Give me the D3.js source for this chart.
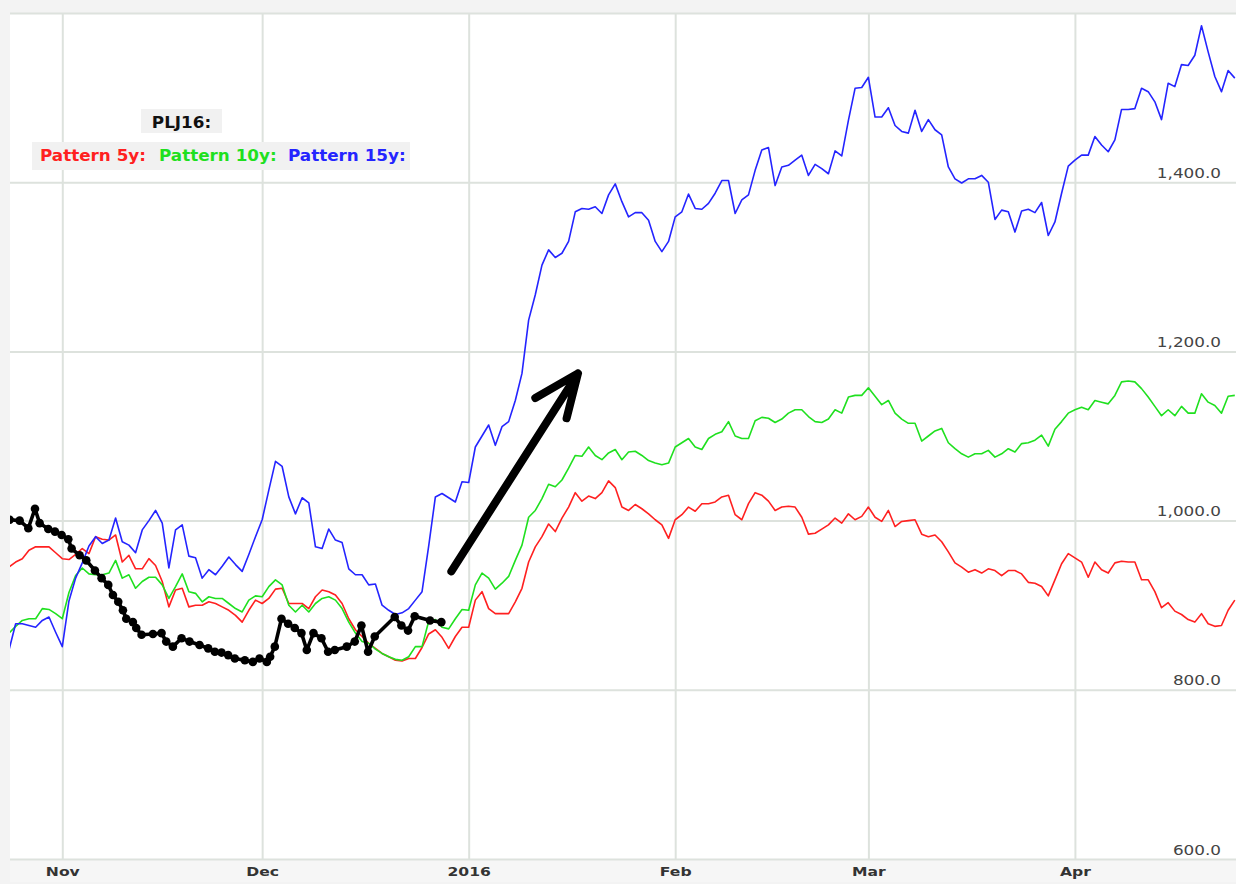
<!DOCTYPE html>
<html>
<head>
<meta charset="utf-8">
<script src="https://cdn.jsdelivr.net/npm/d3@7"></script>
<style>
  body { margin: 0; background: #f3f3f3; }
  svg { display: block; }
</style>
</head>
<body>
<svg id="chart"></svg>
<script>
// pattern series: one value per calendar day, starting 2015-10-24
var pattern5 = [945,951,955,965,969,969,969,962,955,954,960,967,961,981,978,977,983,951,959,943,
  943,955,947,928,898,918,920,898,900,900,904,902,898,894,888,880,894,906,902,908,
  919,920,902,902,902,896,910,918,916,912,902,884,871,863,855,849,843,839,835,834,
  837,837,850,866,871,862,849,863,874,874,906,916,896,890,890,890,904,920,951,969,
  981,996,987,1003,1016,1033,1023,1029,1026,1033,1047,1039,1016,1012,1019,1014,1008,1001,995,979,
  1001,1007,1016,1011,1020,1020,1022,1028,1030,1007,1001,1020,1033,1030,1023,1012,1016,1017,1016,1004,
  984,985,990,995,1003,997,1008,1001,1005,1016,1004,999,1012,993,999,1000,1001,984,981,983,
  975,963,950,945,939,942,938,943,941,935,941,941,937,927,926,922,911,930,949,961,
  956,951,933,951,942,938,950,952,951,951,930,930,916,897,903,893,889,883,880,890,
  878,875,876,894,906];

var pattern10 = [867,875,882,884,884,896,895,890,884,915,935,944,937,936,936,938,953,932,936,920,
  928,933,933,924,908,922,937,916,914,904,910,908,908,902,896,892,906,911,910,922,
  930,924,900,892,900,892,902,908,910,906,896,880,867,857,855,848,843,839,836,835,
  839,851,851,881,883,874,872,884,895,894,924,938,932,919,926,934,953,971,1004,1012,
  1026,1043,1040,1048,1062,1077,1076,1087,1077,1072,1080,1084,1072,1081,1082,1077,1071,1068,1066,1068,
  1087,1092,1097,1087,1084,1097,1102,1105,1117,1100,1097,1097,1118,1122,1121,1116,1120,1127,1131,1131,
  1123,1117,1116,1120,1131,1127,1146,1148,1148,1157,1147,1137,1142,1127,1120,1115,1115,1094,1100,1106,
  1109,1092,1085,1079,1075,1079,1079,1083,1075,1079,1085,1081,1091,1092,1095,1101,1088,1108,1117,1127,
  1131,1134,1131,1142,1140,1138,1148,1164,1165,1164,1156,1146,1135,1124,1131,1124,1135,1127,1127,1150,
  1140,1136,1127,1147,1148];

var pattern15 = [847,878,878,876,874,882,886,868,851,905,932,950,970,981,973,977,1003,975,971,962,
  989,1000,1012,997,944,989,995,958,956,932,942,936,946,957,948,940,960,981,1001,1036,
  1070,1064,1028,1008,1027,1021,969,967,990,977,974,943,936,936,924,925,900,894,889,891,
  896,906,916,970,1028,1032,1027,1022,1046,1045,1087,1100,1113,1089,1111,1117,1142,1174,1237,1267,
  1302,1320,1311,1316,1330,1365,1369,1368,1371,1363,1385,1398,1377,1359,1364,1364,1355,1330,1318,1330,
  1359,1365,1386,1369,1368,1375,1387,1402,1402,1363,1379,1385,1414,1438,1441,1396,1418,1420,1426,1432,
  1408,1421,1416,1410,1437,1431,1473,1511,1512,1524,1477,1477,1488,1467,1460,1458,1485,1460,1474,1462,
  1456,1418,1404,1399,1404,1404,1408,1400,1356,1367,1365,1341,1366,1368,1364,1376,1337,1353,1387,1419,
  1426,1432,1432,1454,1444,1436,1450,1486,1486,1487,1511,1507,1495,1474,1517,1513,1539,1538,1550,1585,
  1554,1525,1507,1532,1523];

// PLJ16 actual closes: day offset from 2015-10-24 and price
var plDays = [0.1,1.6,2.9,3.9,4.6,5.9,6.9,7.9,8.9,9.4,10.6,11.6,12.9,13.9,14.9,15.6,16.4,17.1,17.6,18.6,
  19.1,19.9,21.6,22.9,23.6,24.6,25.9,27.1,28.6,29.9,30.9,31.9,32.9,33.9,35.4,36.6,37.6,38.7,39.2,39.9,
  40.9,41.9,42.9,43.9,44.7,45.7,46.9,47.9,48.9,50.7,51.9,52.9,53.9,54.9,57.9,58.9,59.9,60.9,63.2,64.9];
var plValues = [1001,1000,991,1014,997,990,987,983,978,967,959,953,941,932,924,912,904,894,884,880,
  873,865,866,867,857,851,861,857,853,849,845,844,841,837,835,833,837,833,839,851,
  884,878,873,867,847,867,861,845,847,851,857,876,845,863,886,876,870,887,882,880];

// hand drawn arrow (day offset, price)
var arrowDays = [66.4, 85.4, 79.0, 83.7];
var arrowValues = [940, 1174, 1145, 1121];

var yTicks = [600, 800, 1000, 1200, 1400, 1600];
var legendNames = ["Pattern 5y:", "Pattern 10y:", "Pattern 15y:"];
var legendColors = ["#ff2020", "#1fe01f", "#2424ff"];

var width = 1236, height = 884;
var plotLeft = 10, plotTop = 13, plotBottom = 859;
var start = new Date(Date.UTC(2015, 9, 24));
var end = new Date(Date.UTC(2016, 3, 25));
var dayMs = 86400000;

var svg = d3.select("#chart")
    .attr("width", width)
    .attr("height", height);

var x = d3.scaleUtc()
    .domain([start, end])
    .range([9, 9 + 184 * 6.662]);

var y = d3.scaleLinear()
    .domain([600, 1600])
    .range([plotBottom, plotTop]);

// frame
svg.append("rect")
    .attr("width", width).attr("height", height)
    .attr("fill", "#f3f3f3");
svg.append("rect")
    .attr("x", plotLeft).attr("y", plotTop)
    .attr("width", width - plotLeft).attr("height", plotBottom - plotTop)
    .attr("fill", "#ffffff");
svg.append("rect")
    .attr("x", plotLeft).attr("y", plotBottom)
    .attr("width", width - plotLeft).attr("height", height - plotBottom - 2)
    .attr("fill", "#f6f6f6");

// horizontal grid
svg.append("g")
    .attr("transform", "translate(" + width + ",0)")
    .call(d3.axisLeft(y).tickValues(yTicks).tickSize(width - plotLeft).tickFormat(""))
    .call(function(g) {
        g.select(".domain").remove();
        g.selectAll("line").attr("stroke", "#dde2dd").attr("stroke-width", 2);
    });

// vertical grid and month labels
var months = d3.utcMonth.range(new Date(Date.UTC(2015, 10, 1)), end);
svg.append("g")
    .attr("transform", "translate(0," + plotBottom + ")")
    .call(d3.axisBottom(x).tickValues(months).tickSize(-(plotBottom - plotTop)).tickPadding(8)
        .tickFormat(function(d) {
            return d.getUTCMonth() === 0 ? d3.utcFormat("%Y")(d) : d3.utcFormat("%b")(d);
        }))
    .call(function(g) {
        g.select(".domain").remove();
        g.selectAll("line").attr("stroke", "#dde2dd").attr("stroke-width", 2);
        g.selectAll("text")
            .attr("fill", "#333")
            .attr("font-family", "DejaVu Sans, Verdana, sans-serif")
            .attr("font-weight", "bold")
            .attr("font-size", 12)
            .attr("transform", "scale(1.3,1)");
    });

// y labels, sitting just above their grid line
svg.append("g").selectAll("text")
    .data(yTicks.filter(function(d) { return d < 1600; }))
    .enter().append("text")
    .attr("transform", function(d) { return "translate(1221," + (y(d) - 4.5) + ") scale(1.16,1)"; })
    .attr("text-anchor", "end")
    .attr("font-family", "DejaVu Sans, Verdana, sans-serif")
    .attr("font-size", 14.5)
    .attr("fill", "#444")
    .text(d3.format(",.1f"));

var plot = svg.append("g");
svg.append("clipPath").attr("id", "clip")
    .append("rect").attr("x", plotLeft).attr("y", plotTop)
    .attr("width", width - plotLeft).attr("height", plotBottom - plotTop);
plot.attr("clip-path", "url(#clip)");

var dayLine = d3.line()
    .x(function(d, i) { return x(d3.utcDay.offset(start, i)); })
    .y(function(d) { return y(d); });

[pattern5, pattern10, pattern15].forEach(function(series, i) {
    plot.append("path")
        .datum(series)
        .attr("fill", "none")
        .attr("stroke", legendColors[i])
        .attr("stroke-width", 1.6)
        .attr("stroke-linejoin", "round")
        .attr("d", dayLine);
});

// actual contract
var pl = plDays.map(function(d, i) {
    return { date: new Date(start.getTime() + d * dayMs), value: plValues[i] };
});
plot.append("path")
    .datum(pl)
    .attr("fill", "none")
    .attr("stroke", "#000")
    .attr("stroke-width", 3.6)
    .attr("stroke-linejoin", "round")
    .attr("d", d3.line()
        .x(function(d) { return x(d.date); })
        .y(function(d) { return y(d.value); }));
plot.selectAll(".dot")
    .data(pl)
    .enter().append("circle")
    .attr("class", "dot")
    .attr("cx", function(d) { return x(d.date); })
    .attr("cy", function(d) { return y(d.value); })
    .attr("r", 4.3)
    .attr("fill", "#000");

// arrow
var ap = arrowDays.map(function(d, i) {
    return [x(new Date(start.getTime() + d * dayMs)), y(arrowValues[i])];
});
svg.append("path")
    .attr("d", "M" + ap[0] + "L" + ap[1] + "M" + ap[2] + "L" + ap[1] + "L" + ap[3])
    .attr("fill", "none")
    .attr("stroke", "#000")
    .attr("stroke-width", 8)
    .attr("stroke-linecap", "round")
    .attr("stroke-linejoin", "round");

// legend
svg.append("rect")
    .attr("x", 141).attr("y", 109).attr("width", 81).attr("height", 24)
    .attr("fill", "#f1f1f1");
svg.append("text")
    .attr("transform", "translate(181.5,127.5) scale(1.12,1)")
    .attr("text-anchor", "middle")
    .attr("font-family", "DejaVu Sans, Verdana, sans-serif")
    .attr("font-weight", "bold")
    .attr("font-size", 15)
    .attr("fill", "#111")
    .text("PLJ16:");

svg.append("rect")
    .attr("x", 32).attr("y", 142).attr("width", 378).attr("height", 28)
    .attr("fill", "#f1f1f1");
var legendX = [40, 159, 288];
svg.append("g").selectAll("text")
    .data(legendNames)
    .enter().append("text")
    .attr("transform", function(d, i) { return "translate(" + legendX[i] + ",160.5) scale(1.12,1)"; })
    .attr("font-family", "DejaVu Sans, Verdana, sans-serif")
    .attr("font-weight", "bold")
    .attr("font-size", 15)
    .attr("fill", function(d, i) { return legendColors[i]; })
    .text(function(d) { return d; });
</script>
</body>
</html>
